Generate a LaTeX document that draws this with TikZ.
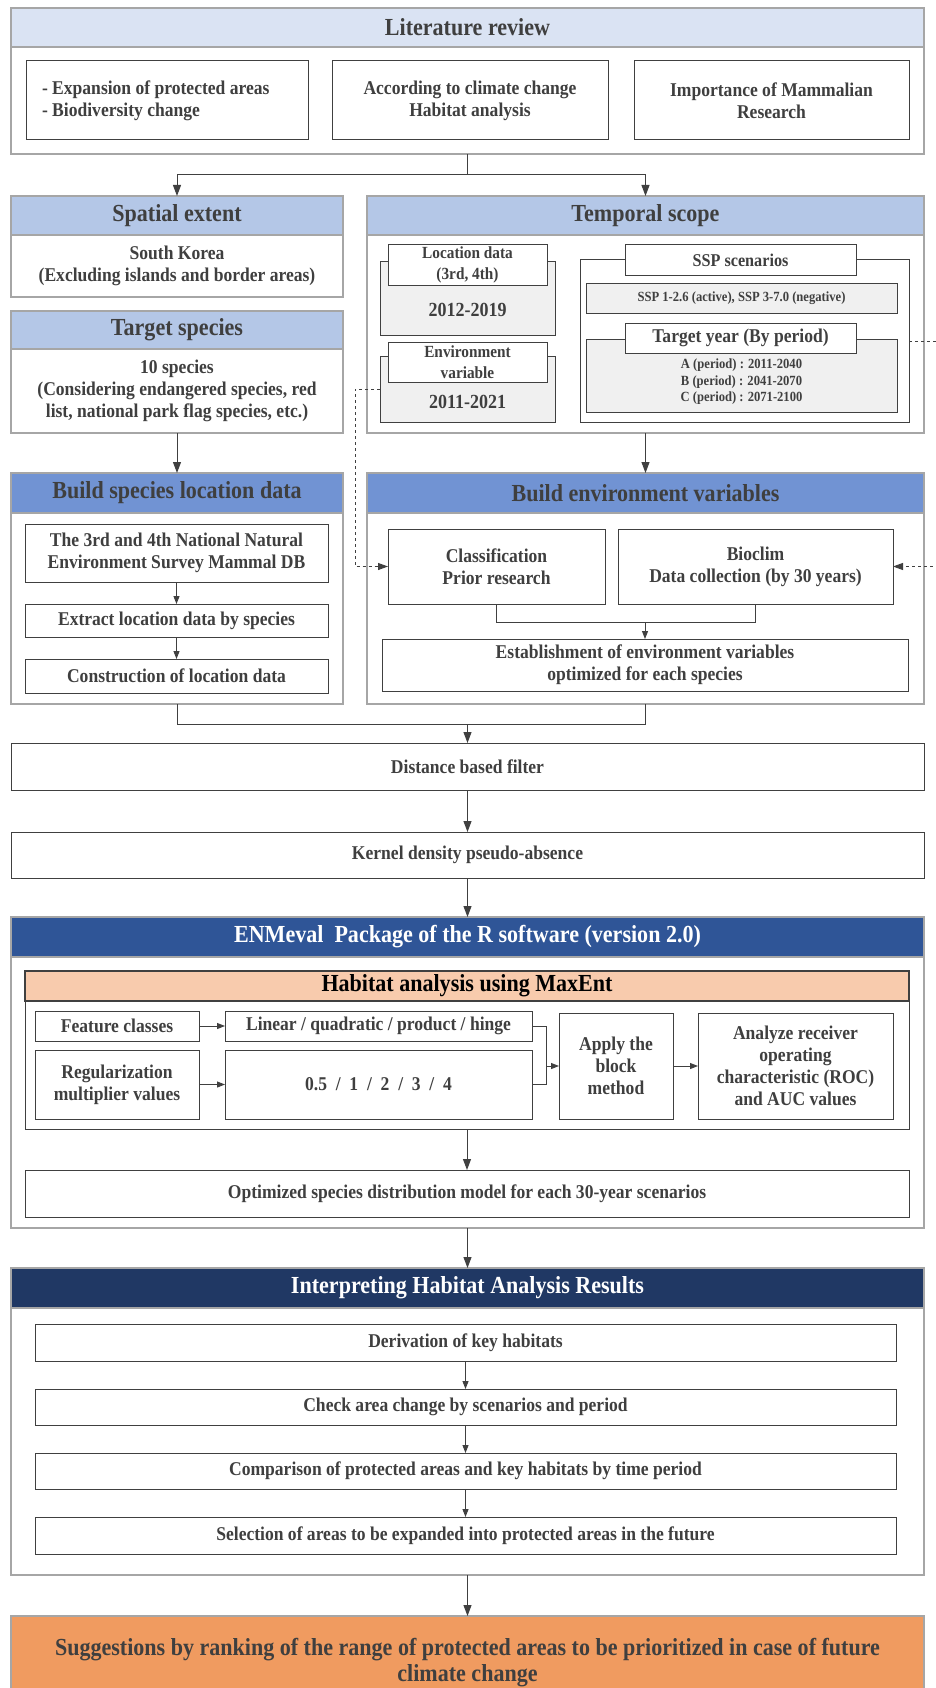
\documentclass[tikz,border=0pt]{standalone}
\usepackage{fontspec}
\setmainfont[FakeStretch=0.9]{Liberation Serif}
\usetikzlibrary{arrows.meta}
\definecolor{bandA}{HTML}{DAE3F3}
\definecolor{bandB}{HTML}{B4C7E7}
\definecolor{bandC}{HTML}{7193D3}
\definecolor{bandD}{HTML}{2F5597}
\definecolor{bandE}{HTML}{F8CBAD}
\definecolor{bandF}{HTML}{203864}
\definecolor{sugfill}{HTML}{F09B60}
\definecolor{grayfill}{HTML}{F0F0F0}
\definecolor{txtgray}{HTML}{3F3F3F}
\definecolor{framegray}{HTML}{A6A6A6}
\definecolor{boxline}{HTML}{404040}
\begin{document}
\begin{tikzpicture}[x=1pt,y=-1pt,
  sz/.style 2 args={minimum width=#1pt,minimum height=#2pt},
  outer/.style={draw=framegray,line width=1.2pt,fill=white,inner sep=0pt,outer sep=0pt},
  band/.style={draw=framegray,line width=1.2pt,inner sep=0pt,outer sep=0pt,align=center,text=txtgray,font=\fontsize{24.5}{27}\selectfont\bfseries},
  box/.style={draw=boxline,line width=1pt,fill=white,inner sep=2pt,outer sep=0pt,align=center,text=txtgray,font=\fontsize{19.5}{22}\selectfont\bfseries},
  graybox/.style={box,fill=grayfill},
  txt/.style={align=center,text=txtgray,font=\fontsize{19.5}{22}\selectfont\bfseries},
  yr/.style={txt,font=\fontsize{20}{22}\selectfont\bfseries},
  small/.style={font=\fontsize{14}{16.5}\selectfont\bfseries},
  label/.style={font=\fontsize{17}{21}\selectfont\bfseries},
  mid/.style={font=\fontsize{19.5}{22}\selectfont\bfseries},
  ln/.style={draw=boxline,line width=1pt},
  arr/.style={ln,-{Triangle[width=8pt,length=11pt]}},
  arrs/.style={ln,-{Triangle[width=6pt,length=8pt]}},
  dashline/.style={ln,dashed,-{Triangle[width=7pt,length=10pt]}}]
\useasboundingbox (0,0) rectangle (935,1688);
\node[outer,sz={913}{146}] (lit) at (467.5,81) {};
\node[band,fill=bandA,sz={913}{39}] (litband) at (467.5,27.5) {Literature review};
\node[box,sz={282}{79},inner xsep=16pt,text width=250pt,align=flush left] (lit1) at (167,100.5) {- Expansion of protected areas\\- Biodiversity change};
\node[box,sz={276}{79}] (lit2) at (470,100.5) {According to climate change\\Habitat analysis};
\node[box,sz={275}{79}] (lit3) at (771.5,100.5) {Importance of Mammalian\\Research};
\node[outer,sz={332}{101}] (spa) at (177,246.5) {};
\node[band,fill=bandB,sz={332}{39}] (spaband) at (177,215.5) {Spatial extent};
\node[txt] (spatext) at (177,266) {South Korea\\(Excluding islands and border areas)};
\node[outer,sz={332}{122}] (tgt) at (177,372) {};
\node[band,fill=bandB,sz={332}{38}] (tgtband) at (177,330) {Target species};
\node[txt] (tgttext) at (177,391) {10 species\\(Considering endangered species, red\\list, national park flag species, etc.)};
\node[outer,sz={557}{237}] (tmp) at (645.5,314.5) {};
\node[band,fill=bandB,sz={557}{39}] (tmpband) at (645.5,215.5) {Temporal scope};
\node[graybox,sz={175}{73}] (locback) at (467.5,298.5) {};
\node[box,label,sz={159}{40}] (loclabel) at (467.5,265) {Location data\\(3rd, 4th)};
\node[yr] (locyear) at (467.5,310) {2012-2019};
\node[graybox,sz={175}{66}] (envback) at (467.5,389) {};
\node[box,label,sz={159}{40}] (envlabel) at (467.5,362) {Environment\\variable};
\node[yr] (envyear) at (467.5,402) {2011-2021};
\node[box,sz={329}{162}] (sspout) at (744.5,341) {};
\node[graybox,small,sz={311}{30}] (sspgray) at (741.5,298) {SSP 1-2.6 (active), SSP 3-7.0 (negative)};
\node[graybox,sz={311}{73}] (tygray) at (741.5,375.5) {};
\node[box,mid,font=\fontsize{18}{22}\selectfont\bfseries,sz={231}{30}] (ssplabel) at (740.5,260) {SSP scenarios};
\node[box,mid,sz={231}{30}] (tylabel) at (740.5,338) {Target year (By period)};
\node[txt,small] (period) at (741.5,382) {A (period) : 2011-2040\\B (period) : 2041-2070\\C (period) : 2071-2100};
\draw[ln] (lit.south) -- ++(0,21) coordinate (split);
\draw[arr] (split) -| (spaband.north);
\draw[arr] (split) -| (tmpband.north);
\node[outer,sz={332}{231}] (bsp) at (177,588.5) {};
\node[band,fill=bandC,sz={332}{40}] (bspband) at (177,493) {Build species location data};
\node[box,sz={303}{58}] (sp1) at (176.5,553) {The 3rd and 4th National Natural\\Environment Survey Mammal DB};
\node[box,sz={303}{33}] (sp2) at (176.5,620.5) {Extract location data by species};
\node[box,sz={303}{34}] (sp3) at (176.5,676) {Construction of location data};
\draw[arrs] (sp1) -- (sp2);
\draw[arrs] (sp2) -- (sp3);
\node[outer,sz={557}{231}] (benv) at (645.5,588.5) {};
\node[band,fill=bandC,sz={557}{40}] (benvband) at (645.5,493) {Build environment variables};
\node[box,sz={217}{75}] (cls) at (496.5,566.5) {Classification\\Prior research};
\node[box,sz={275}{75}] (bio) at (755.5,566.5) {Bioclim\\Data collection (by 30 years)};
\node[box,sz={526}{52}] (est) at (645,665) {Establishment of environment variables\\optimized for each species};
\draw[ln] (cls.south) -- ++(0,18) coordinate (clsjoin) -| (bio.south);
\draw[arrs] (clsjoin -| est.north) -- (est.north);
\draw[arr] (tgt.south) -- (bspband.north);
\draw[arr] (tmp.south) -- (benvband.north);
\draw[dashline] (envback.west) -- ++(-25,0) |- (cls.west);
\draw[dashline] (sspout.east) -- ++(40,0) |- (bio.east);
\draw[ln] (bsp.south) -- ++(0,20) coordinate (bspjoin) -| (benv.south);
\node[box,sz={913}{47}] (dist) at (467.5,766.5) {Distance based filter};
\node[box,sz={913}{46}] (kde) at (467.5,855) {Kernel density pseudo-absence};
\draw[arr] (bspjoin -| dist.north) -- (dist.north);
\draw[arr] (dist) -- (kde);
\node[outer,sz={913}{311}] (enm) at (467.5,1072.5) {};
\node[band,fill=bandD,text=white,sz={913}{40}] (enmband) at (467.5,937) {ENMeval\ \ Package of the R software (version 2.0)};
\draw[arr] (kde) -- (enmband);
\node[box,sz={884}{158}] (hab) at (467,1050) {};
\node[band,draw=boxline,fill=bandE,text=black,sz={884}{30}] (habband) at (467,986) {Habitat analysis using MaxEnt};
\node[box,sz={164}{30}] (feat) at (117,1026) {Feature classes};
\node[box,sz={307}{30}] (lin) at (378.5,1026) {Linear / quadratic / product / hinge};
\node[box,sz={164}{69}] (reg) at (117,1084.5) {Regularization\\multiplier values};
\node[box,sz={307}{69}] (num) at (378.5,1084.5) {0.5\ \ /\ \ 1\ \ /\ \ 2\ \ /\ \ 3\ \ /\ \ 4};
\node[box,sz={114}{106}] (apply) at (616,1066) {Apply the\\block\\method};
\node[box,sz={195}{106}] (anal) at (795.5,1066) {Analyze receiver\\operating\\characteristic (ROC)\\and AUC values};
\draw[arrs] (feat) -- (lin);
\draw[arrs] (reg) -- (num);
\draw[ln] (lin.east) -- ++(14,0) coordinate (brk) |- (num.east);
\draw[arrs] (brk |- apply.west) -- (apply.west);
\draw[arrs] (apply) -- (anal);
\node[box,sz={884}{47}] (opt) at (467,1193.5) {Optimized species distribution model for each 30-year scenarios};
\draw[arr] (hab) -- (opt);
\node[outer,sz={913}{307}] (int) at (467.5,1421.5) {};
\node[band,fill=bandF,text=white,sz={913}{40}] (intband) at (467.5,1288) {Interpreting Habitat Analysis Results};
\draw[arr] (enm) -- (intband);
\node[box,sz={861}{37}] (int1) at (465.5,1342.5) {Derivation of key habitats};
\node[box,sz={861}{36}] (int2) at (465.5,1407) {Check area change by scenarios and period};
\node[box,sz={861}{36}] (int3) at (465.5,1471) {Comparison of protected areas and key habitats by time period};
\node[box,sz={861}{37}] (int4) at (465.5,1535.5) {Selection of areas to be expanded into protected areas in the future};
\draw[arrs] (int1) -- (int2);
\draw[arrs] (int2) -- (int3);
\draw[arrs] (int3) -- (int4);
\node[band,fill=sugfill,font=\fontsize{24.5}{26}\selectfont\bfseries,sz={913}{94}] (sug) at (467.5,1663) {Suggestions by ranking of the range of protected areas to be prioritized in case of future\\climate change};
\draw[arr] (int) -- (sug);
\end{tikzpicture}
\end{document}
